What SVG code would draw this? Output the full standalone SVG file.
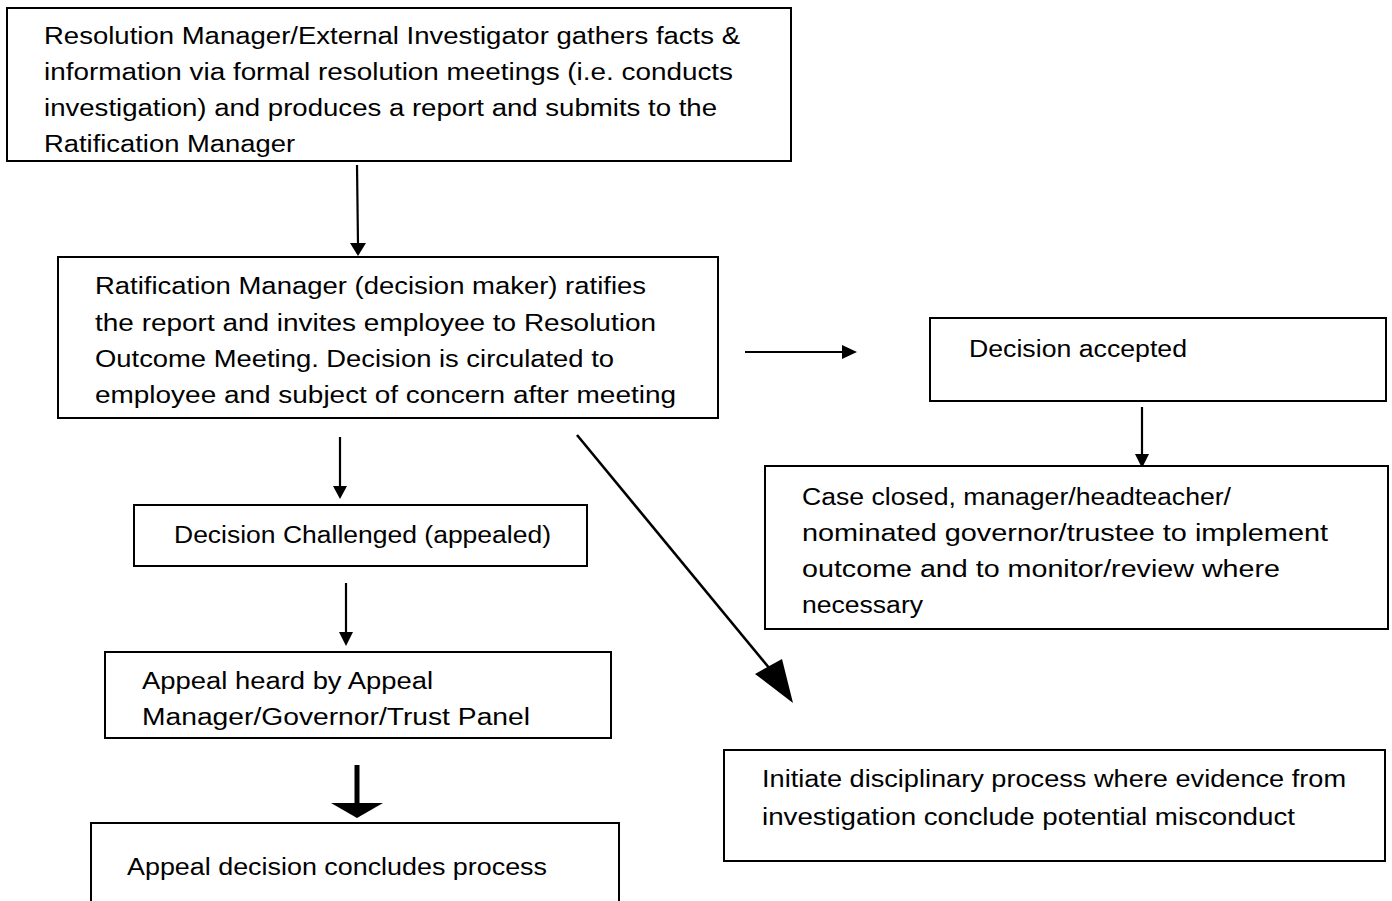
<svg xmlns="http://www.w3.org/2000/svg" width="1392" height="901" viewBox="0 0 1392 901">
<style>
rect.box{fill:#fff;stroke:#000;stroke-width:2}
text{font-family:"Liberation Sans",Arial,sans-serif;font-size:23.5px;fill:#000}
line.c{stroke:#000;stroke-width:2.2}
</style>
<rect width="1392" height="901" fill="#fff"/>
<g id="connectors">
<line class="c" x1="357" y1="165" x2="358" y2="245"/>
<polygon points="350,243 366,243 358,256"/>
<line class="c" x1="745" y1="352" x2="844" y2="352"/>
<polygon points="842,345 857,352 842,359"/>
<line class="c" x1="1142" y1="407" x2="1142" y2="456"/>
<polygon points="1135,454 1149,454 1142,468"/>
<line class="c" x1="340" y1="437" x2="340" y2="488"/>
<polygon points="333,486 347,486 340,499"/>
<line class="c" x1="346" y1="583" x2="346" y2="634"/>
<polygon points="339,632 353,632 346,646"/>
<line x1="357" y1="765" x2="357" y2="805" stroke="#000" stroke-width="5"/>
<polygon points="331,803 383,803 357,818"/>
<line x1="577" y1="435" x2="770" y2="669" stroke="#000" stroke-width="2.6"/>
<polygon points="755,674 782,659 793,703"/>
</g>
<g id="n1">
<rect class="box" x="7" y="8" width="784" height="153"/>
<text x="44" y="44" textLength="696" lengthAdjust="spacingAndGlyphs">Resolution Manager/External Investigator gathers facts &amp;</text>
<text x="44" y="80" textLength="689" lengthAdjust="spacingAndGlyphs">information via formal resolution meetings (i.e. conducts</text>
<text x="44" y="116" textLength="673" lengthAdjust="spacingAndGlyphs">investigation) and produces a report and submits to the</text>
<text x="44" y="152" textLength="251" lengthAdjust="spacingAndGlyphs">Ratification Manager</text>
</g>
<g id="n2">
<rect class="box" x="58" y="257" width="660" height="161"/>
<text x="95" y="294" textLength="551" lengthAdjust="spacingAndGlyphs">Ratification Manager (decision maker) ratifies</text>
<text x="95" y="331" textLength="561" lengthAdjust="spacingAndGlyphs">the report and invites employee to Resolution</text>
<text x="95" y="367" textLength="519" lengthAdjust="spacingAndGlyphs">Outcome Meeting. Decision is circulated to</text>
<text x="95" y="403" textLength="581" lengthAdjust="spacingAndGlyphs">employee and subject of concern after meeting</text>
</g>
<g id="n3">
<rect class="box" x="930" y="318" width="456" height="83"/>
<text x="969" y="357" textLength="218" lengthAdjust="spacingAndGlyphs">Decision accepted</text>
</g>
<g id="n4">
<rect class="box" x="765" y="466" width="623" height="163"/>
<text x="802" y="505" textLength="429" lengthAdjust="spacingAndGlyphs">Case closed, manager/headteacher/</text>
<text x="802" y="541" textLength="526" lengthAdjust="spacingAndGlyphs">nominated governor/trustee to implement</text>
<text x="802" y="577" textLength="478" lengthAdjust="spacingAndGlyphs">outcome and to monitor/review where</text>
<text x="802" y="613" textLength="121" lengthAdjust="spacingAndGlyphs">necessary</text>
</g>
<g id="n5">
<rect class="box" x="134" y="505" width="453" height="61"/>
<text x="174" y="543" textLength="377" lengthAdjust="spacingAndGlyphs">Decision Challenged (appealed)</text>
</g>
<g id="n6">
<rect class="box" x="105" y="652" width="506" height="86"/>
<text x="142" y="689" textLength="291" lengthAdjust="spacingAndGlyphs">Appeal heard by Appeal</text>
<text x="142" y="725" textLength="388" lengthAdjust="spacingAndGlyphs">Manager/Governor/Trust Panel</text>
</g>
<g id="n7">
<rect class="box" x="91" y="823" width="528" height="90"/>
<text x="127" y="875" textLength="420" lengthAdjust="spacingAndGlyphs">Appeal decision concludes process</text>
</g>
<g id="n8">
<rect class="box" x="724" y="750" width="661" height="111"/>
<text x="762" y="787" textLength="584" lengthAdjust="spacingAndGlyphs">Initiate disciplinary process where evidence from</text>
<text x="762" y="825" textLength="533" lengthAdjust="spacingAndGlyphs">investigation conclude potential misconduct</text>
</g>
</svg>
